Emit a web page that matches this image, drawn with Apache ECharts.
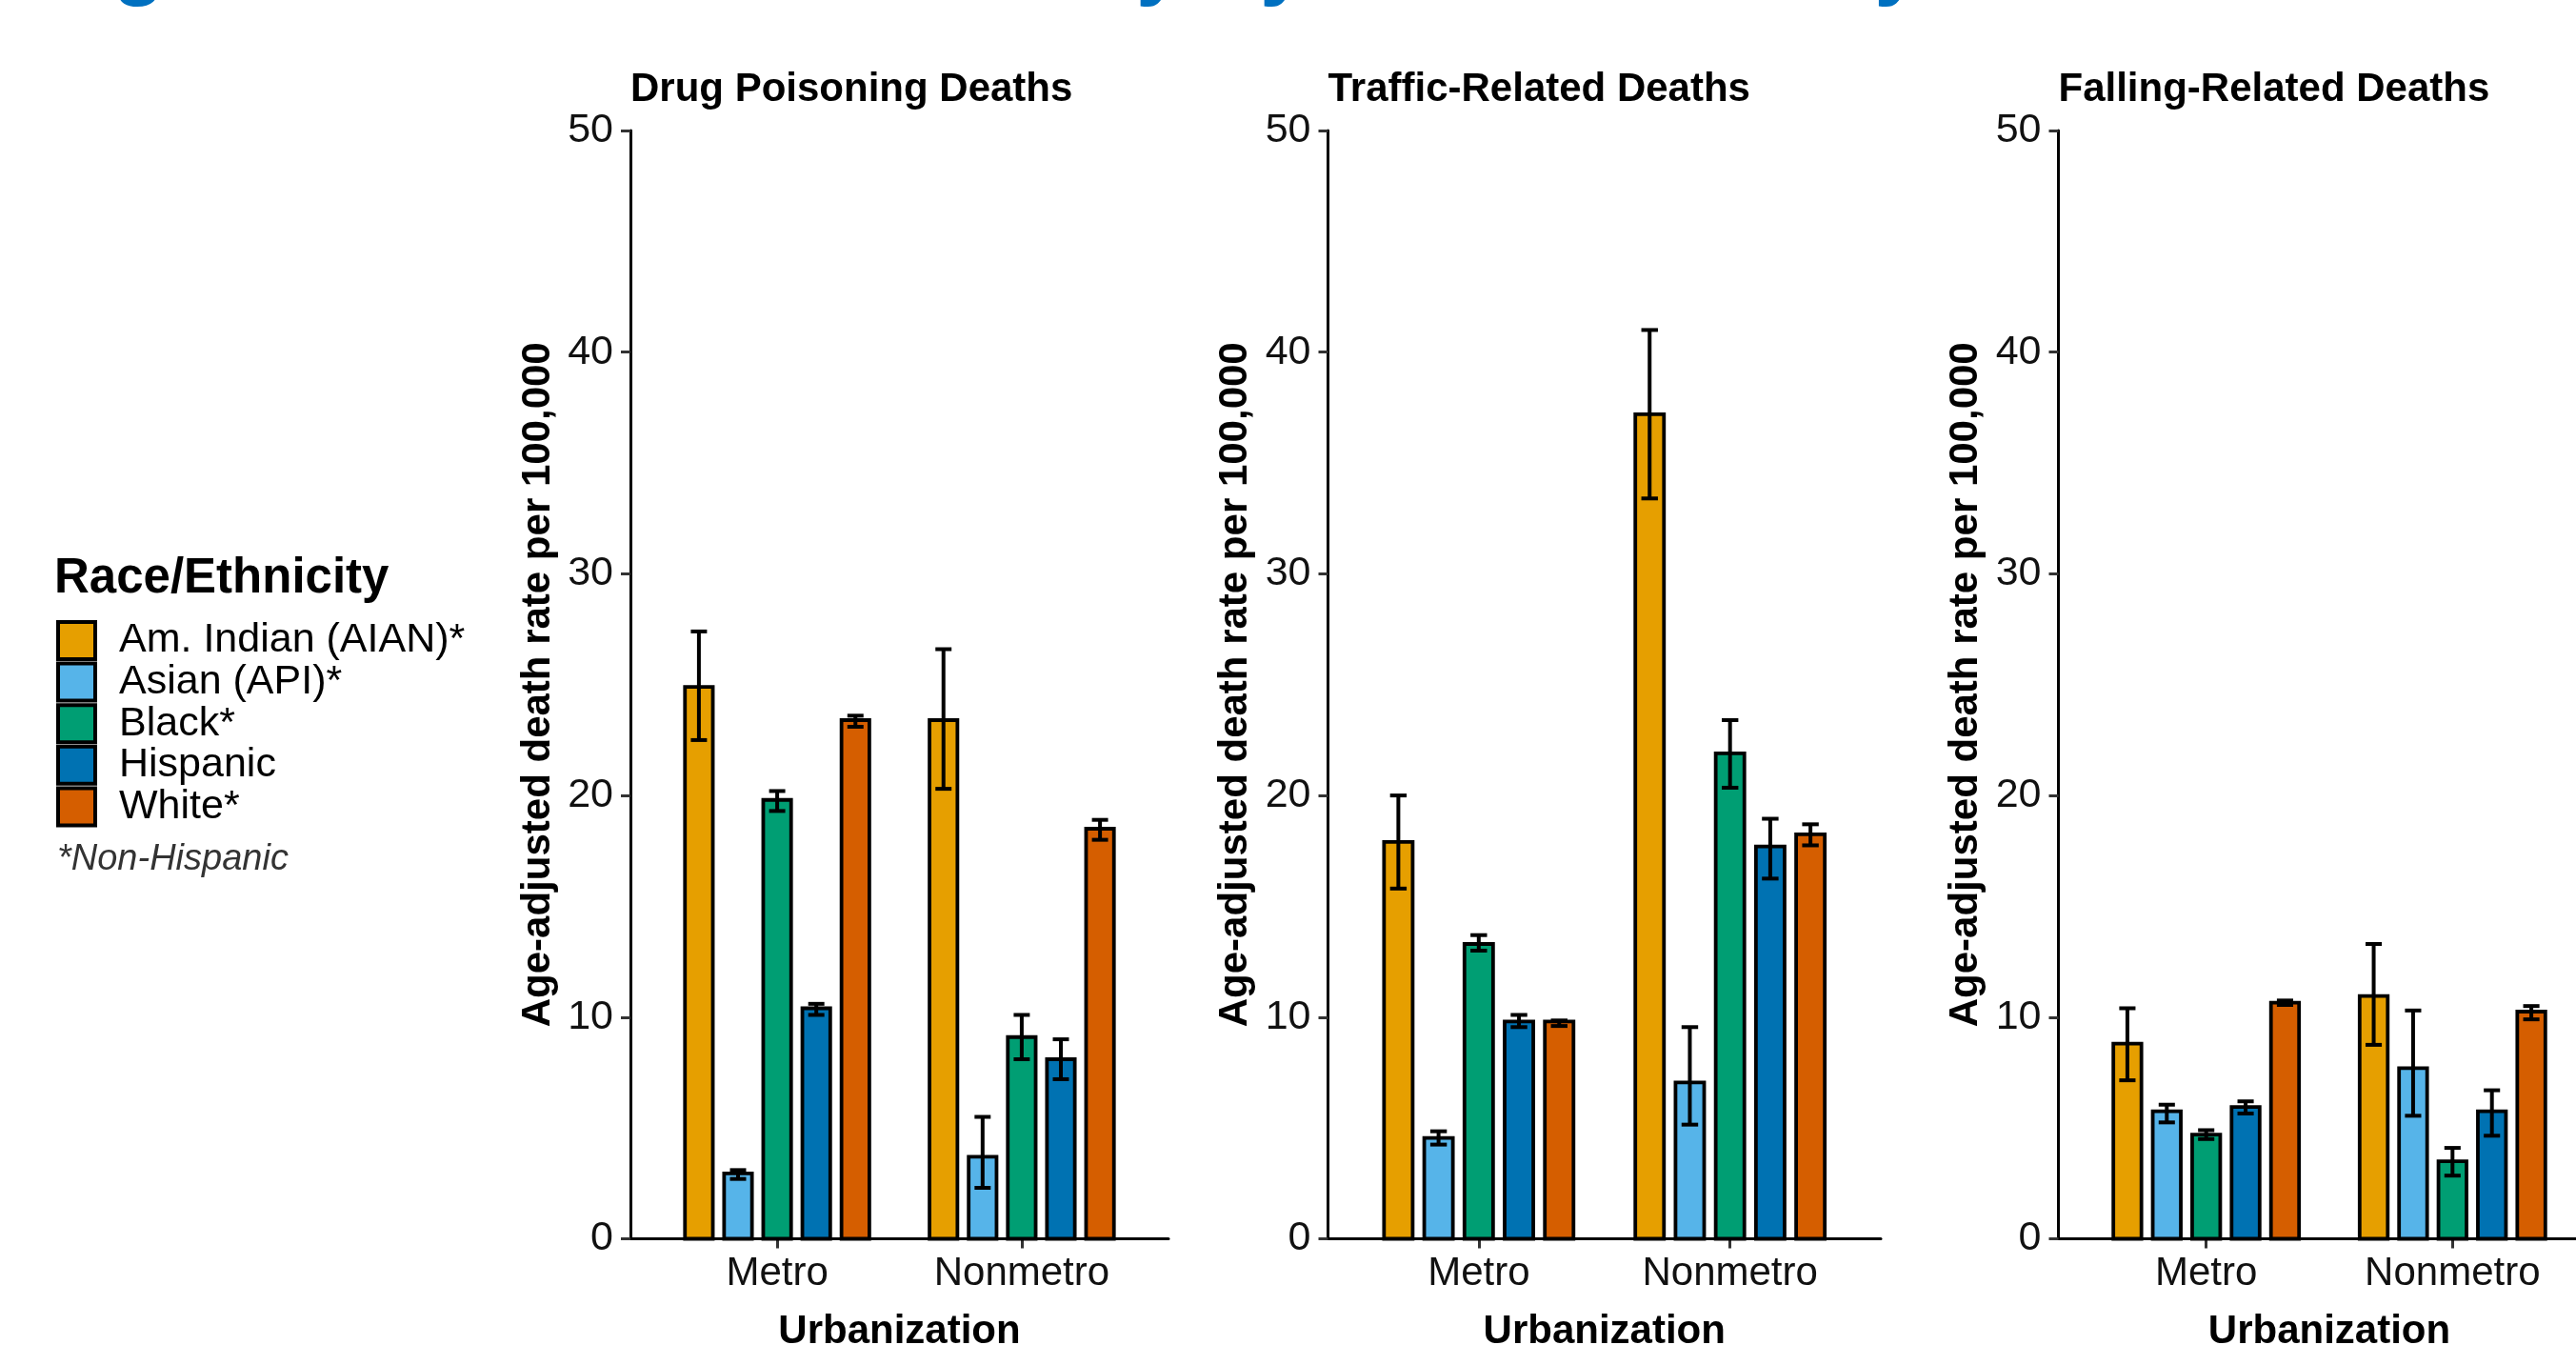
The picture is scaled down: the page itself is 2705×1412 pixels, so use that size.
<!DOCTYPE html>
<html>
<head>
<meta charset="utf-8">
<script src="https://cdn.jsdelivr.net/npm/echarts@6/dist/echarts.min.js"></script>
<style>
html,body{margin:0;padding:0;background:#fff;}
#chart{width:2705px;height:1412px;}
</style>
</head>
<body>
<div id="chart"></div>
<script>
// ---------------- data ----------------
const categories = ['Metro', 'Nonmetro'];
const races = ['Am. Indian (AIAN)*', 'Asian (API)*', 'Black*', 'Hispanic', 'White*'];
const panelTitles = ['Drug Poisoning Deaths', 'Traffic-Related Deaths', 'Falling-Related Deaths'];
const yTicks = [0, 10, 20, 30, 40, 50];

// rate[race][category]  (Metro, Nonmetro)
const drugRate  = [[24.9, 23.4], [2.95, 3.7], [19.8, 9.1], [10.4, 8.1], [23.4, 18.5]];
const drugLower = [[22.5, 20.3], [2.7, 2.3], [19.3, 8.1], [10.1, 7.2], [23.1, 18.0]];
const drugUpper = [[27.4, 26.6], [3.1, 5.5], [20.2, 10.1], [10.6, 9.0], [23.6, 18.9]];

const trafficRate  = [[17.9, 37.2], [4.55, 7.05], [13.3, 21.9], [9.8, 17.7], [9.8, 18.25]];
const trafficLower = [[15.8, 33.4], [4.25, 5.15], [13.0, 20.35], [9.55, 16.25], [9.6, 17.75]];
const trafficUpper = [[20.0, 41.0], [4.85, 9.55], [13.7, 23.4], [10.1, 18.95], [9.85, 18.7]];

const fallRate  = [[8.8, 10.95], [5.75, 7.7], [4.7, 3.5], [5.95, 5.75], [10.65, 10.25]];
const fallLower = [[7.15, 8.75], [5.25, 5.55], [4.5, 2.85], [5.65, 4.65], [10.55, 9.9]];
const fallUpper = [[10.4, 13.3], [6.05, 10.3], [4.9, 4.1], [6.2, 6.7], [10.75, 10.5]];

// ---------------- styles / layout ----------------
const colors = ['#E69F00', '#56B4E9', '#009E73', '#0072B2', '#D55E00'];
const FONT = '"Liberation Sans", Arial, sans-serif';
const SLOT = 0.16, HALF = 0.057, CAP = 0.033;
const gridsPx = [
  {left: 662, width: 565},
  {left: 1394.5, width: 580.5},
  {left: 2161.5, width: 569}
];
const panelData = [
  [drugRate, drugLower, drugUpper],
  [trafficRate, trafficLower, trafficUpper],
  [fallRate, fallLower, fallUpper]
];

const chart = echarts.init(document.getElementById('chart'), null, {renderer: 'canvas'});

const grid = gridsPx.map(g => ({
  left: g.left, width: g.width, top: 137, height: 1163.5,
  containLabel: false, outerBoundsMode: 'none'
}));

const xAxis = gridsPx.map((g, i) => ({
  type: 'value', gridIndex: i, min: 0.4, max: 2.6,
  axisLine: {show: true, onZero: false, lineStyle: {color: '#000', width: 3}},
  axisTick: {show: true, customValues: [1, 2], length: 10, lineStyle: {color: '#333', width: 3}},
  axisLabel: {
    show: true, customValues: [1, 2],
    formatter: v => categories[Math.round(v) - 1],
    fontSize: 42, lineHeight: 42, color: '#111', margin: 16, fontFamily: FONT
  },
  splitLine: {show: false},
  name: 'Urbanization', nameLocation: 'middle', nameGap: 77,
  nameTextStyle: {fontSize: 42, lineHeight: 42, fontWeight: 'bold', color: '#000', fontFamily: FONT}
}));

const yAxis = gridsPx.map((g, i) => ({
  type: 'value', gridIndex: i, min: yTicks[0], max: yTicks[yTicks.length - 1], interval: 10,
  axisLine: {show: true, onZero: false, lineStyle: {color: '#000', width: 3}},
  axisTick: {show: true, length: 10, lineStyle: {color: '#333', width: 3}},
  axisLabel: {fontSize: 43, lineHeight: 43, color: '#111', margin: 18, fontFamily: FONT},
  splitLine: {show: false},
  name: 'Age-adjusted death rate per 100,000', nameLocation: 'middle', nameGap: 76,
  nameTextStyle: {fontSize: 42, lineHeight: 42, fontWeight: 'bold', color: '#000', fontFamily: FONT}
}));

const series = [];
panelData.forEach((pd, p) => {
  const [rate, lower, upper] = pd;
  races.forEach((race, ri) => {
    series.push({
      type: 'custom', name: race, xAxisIndex: p, yAxisIndex: p,
      encode: {x: 0, y: 1},
      data: categories.map((c, j) => [j + 1, rate[ri][j], lower[ri][j], upper[ri][j]]),
      renderItem: (params, api) => {
        const xc = api.value(0) + (ri - 2) * SLOT;
        const v = api.value(1), lo = api.value(2), hi = api.value(3);
        const tl = api.coord([xc - HALF, v]);
        const br = api.coord([xc + HALF, 0]);
        const top = api.coord([xc, hi]);
        const bot = api.coord([xc, lo]);
        const cl = api.coord([xc - CAP, 0])[0], cr = api.coord([xc + CAP, 0])[0];
        const ls = {stroke: '#000', lineWidth: 4};
        return {type: 'group', children: [
          {type: 'rect', shape: {x: tl[0], y: tl[1], width: br[0] - tl[0], height: br[1] - tl[1]},
           style: {fill: colors[ri], stroke: '#000', lineWidth: 3.8}},
          {type: 'line', shape: {x1: top[0], y1: top[1], x2: bot[0], y2: bot[1]}, style: ls},
          {type: 'line', shape: {x1: cl, y1: top[1], x2: cr, y2: top[1]}, style: ls},
          {type: 'line', shape: {x1: cl, y1: bot[1], x2: cr, y2: bot[1]}, style: ls}
        ]};
      }
    });
  });
});

const titles = panelTitles.map((t, i) => ({
  text: t, left: gridsPx[i].left, top: 73, padding: 0,
  textStyle: {fontSize: 42, lineHeight: 42, fontWeight: 'bold', color: '#000', fontFamily: FONT}
}));
titles.push({
  text: 'Fig. 3. Urban-Rural Mortality by Race/Ethnicity', left: 38, top: -82, padding: 0,
  textStyle: {fontSize: 90, lineHeight: 90, fontWeight: 'bold', color: '#0070C0', fontFamily: FONT}
});
titles.push({
  text: 'Race/Ethnicity', left: 57, top: 582, padding: 0,
  textStyle: {fontSize: 51, lineHeight: 51, fontWeight: 'bold', color: '#000', fontFamily: FONT}
});
titles.push({
  text: '*Non-Hispanic', left: 60, top: 883, padding: 0,
  textStyle: {fontSize: 38, lineHeight: 38, fontStyle: 'italic', fontWeight: 'normal', color: '#333', fontFamily: FONT}
});

chart.setOption({
  animation: false,
  backgroundColor: '#fff',
  title: titles,
  legend: {
    orient: 'vertical', left: 59, top: 651, padding: 0,
    itemWidth: 39, itemHeight: 39, itemGap: 0.6, selectedMode: false,
    data: races.map((r, i) => ({name: r, icon: 'rect',
      itemStyle: {color: colors[i], borderColor: '#000', borderWidth: 4}})),
    textStyle: {fontSize: 43, lineHeight: 38, color: '#000', fontFamily: FONT, padding: [0, 0, 0, 20]}
  },
  grid: grid,
  xAxis: xAxis,
  yAxis: yAxis,
  series: series
});
</script>
</body>
</html>
